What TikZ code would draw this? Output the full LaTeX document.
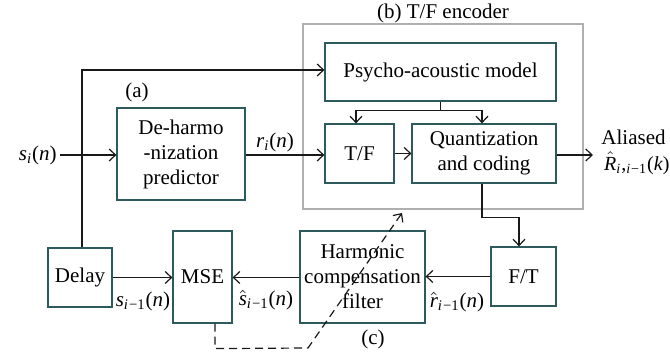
\documentclass[tikz,border=0pt]{standalone}
\usepackage{fontspec}
\setmainfont{Liberation Serif}
\usetikzlibrary{arrows.meta,calc}
\definecolor{boxc}{RGB}{45,90,92}
\definecolor{grayc}{RGB}{175,175,175}
\definecolor{linec}{RGB}{25,25,25}
\newcommand\myit[1]{\textit{#1}}
\newcommand\mysub[1]{\textsubscript{\itshape #1}}
\newcommand\hatit[1]{\ensuremath{\hat{\mbox{\itshape #1}}}}
\tikzset{
  blk/.style={draw=boxc,line width=0.6pt,align=center,inner sep=1pt,font=\rmfamily\fontsize{10.5}{12.5}\selectfont},
  conn/.style={draw=linec,line width=0.6pt,-{Straight Barb[length=3.2pt,width=6pt]}},
  plain/.style={draw=linec,line width=0.6pt},
  lbl/.style={font=\rmfamily\fontsize{10.5}{12.5}\selectfont,inner sep=0pt}
}
\begin{document}
\begin{tikzpicture}[x=0.5pt,y=-0.5pt]
\useasboundingbox (0,0) rectangle (670,356);
% gray encoder box
\draw[grayc,line width=0.6pt] (303,24) rectangle (583,209);
\node[lbl] (blab) at (443,13) {(b) T/F encoder};
% blocks
\node[blk,minimum width=115.5pt,minimum height=29pt] (psy) at (440.5,72) {Psycho-acoustic model};
\node[blk,minimum width=64pt,minimum height=46pt] (deh) at (181,154) {De-harmo\\-nization\\predictor};
\node[blk,minimum width=34.5pt,minimum height=29.5pt] (tf) at (359.5,153.5) {T/F};
\node[blk,minimum width=72pt,minimum height=29.5pt] (qc) at (484,153.5) {Quantization\\and coding};
\node[blk,minimum width=32.5pt,minimum height=29.5pt] (ft) at (523.5,276.5) {F/T};
\node[blk,minimum width=62.5pt,minimum height=46pt] (hcf) at (362.5,277) {Harmonic\\compensation\\filter};
\node[blk,minimum width=29.5pt,minimum height=46pt] (mse) at (202.5,277) {MSE};
\node[blk,minimum width=32pt,minimum height=29.5pt] (dly) at (80,277.5) {Delay};
% labels
\node[lbl] (alab) at (137,92) {(a)};
\node[lbl] (clab) at (373,339) {(c)};
\node[lbl,anchor=east] (sin) at (57,155) {\myit{s}\mysub{i}(\myit{n})};
\coordinate (inp) at (60,155);
\node[lbl] (rl) at (275,142) {\myit{r}\mysub{i}(\myit{n})};
\node[lbl] (sl) at (143,301) {\myit{s}\mysub{i}\textsubscript{−1}(\myit{n})};
\node[lbl] (shl) at (266,300) {\hatit{s}\mysub{i}\textsubscript{−1}(\myit{n})};
\node[lbl] (rhl) at (457,302) {\hatit{r}\mysub{i}\textsubscript{−1}(\myit{n})};
\coordinate (outp) at (593,155);
\node[lbl,anchor=east] (al) at (666,137) {Aliased};
\node[lbl,anchor=east,font=\rmfamily\fontsize{10}{12}\selectfont] (Rl) at (670,163) {\hatit{R}\mysub{i},\mysub{i}\textsubscript{−1}(\myit{k})};
% connectors
\draw[conn] (inp) -- (deh.west |- inp);
\draw[conn] (deh.east |- inp) -- (tf.west |- inp);
\draw[conn] (tf.east) -- (qc.west);
\draw[conn] (qc.east |- outp) -- (outp);
\draw[plain] (psy.south) -- ++(0,9) coordinate (j);
\draw[conn] (j) -| ($(tf.north)+(-3.5,0)$);
\draw[conn] (j) -| ($(qc.north)+(-2,0)$);
\draw[conn] ($(qc.south)+(-2,0)$) -- ++(0,34) -| ($(ft.north)+(-4.5,0)$);
\draw[conn] (ft.west) -- (hcf.east |- ft.west);
\draw[conn] (hcf.west |- dly.east) -- (mse.east |- dly.east);
\draw[conn] (dly.east) -- (mse.west |- dly.east);
\coordinate (top) at (82,70);
\draw[conn] (dly.north -| top) -- (top) -- (psy.west |- top);
\coordinate (d2) at (308,348);
\coordinate (dend) at (402,213);
\draw[conn,dashed,dash pattern=on 4pt off 2.5pt] ($(mse.south)+(12.5,0)$) -- ++(0,25) -- (d2) -- (dend);
\end{tikzpicture}
\end{document}
